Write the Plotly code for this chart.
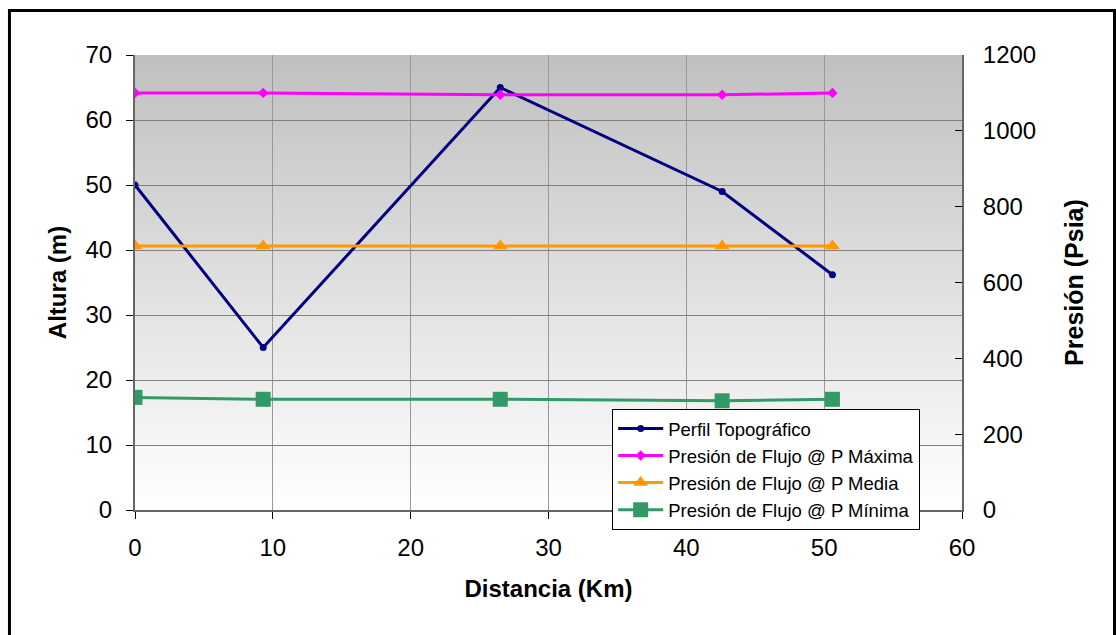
import base64
import plotly.graph_objects as go

# ---- data ----
distancia_km = [0, 9.3, 26.5, 42.6, 50.6]
perfil_topografico = [50, 25, 65, 49, 36.2]
presion_p_maxima = [1100, 1100, 1095, 1095, 1100]
presion_p_media = [696, 696, 696, 696, 696]
presion_p_minima = [297, 292, 292, 288, 292]

serie_nombres = [
    "Perfil Topográfico",
    "Presión de Flujo @ P Máxima",
    "Presión de Flujo @ P Media",
    "Presión de Flujo @ P Mínima",
]

FONT = "Liberation Sans, Arial, sans-serif"

fig = go.Figure()

fig.add_trace(go.Scatter(
    x=distancia_km, y=perfil_topografico, name=serie_nombres[0],
    mode="lines+markers",
    line=dict(color="#000080", width=3),
    marker=dict(symbol="circle", size=7, color="#000080"),
))
fig.add_trace(go.Scatter(
    x=distancia_km, y=presion_p_maxima, name=serie_nombres[1], yaxis="y2",
    mode="lines+markers",
    line=dict(color="#FF00FF", width=3),
    marker=dict(symbol="diamond", size=8, color="#FF00FF"),
))
fig.add_trace(go.Scatter(
    x=distancia_km, y=presion_p_media, name=serie_nombres[2], yaxis="y2",
    mode="lines+markers",
    line=dict(color="#FF9900", width=3),
    marker=dict(symbol="triangle-up", size=13, color="#FF9900"),
))
fig.add_trace(go.Scatter(
    x=distancia_km, y=presion_p_minima, name=serie_nombres[3], yaxis="y2",
    mode="lines+markers",
    line=dict(color="#339966", width=3),
    marker=dict(symbol="square", size=15, color="#339966"),
))

# vertical gradient background (grey top -> white bottom)
svg = (
    '<svg xmlns="http://www.w3.org/2000/svg" width="100" height="100" preserveAspectRatio="none">'
    '<defs><linearGradient id="g" x1="0" y1="0" x2="0" y2="1">'
    '<stop offset="0" stop-color="#C0C0C0"/><stop offset="1" stop-color="#FFFFFF"/>'
    '</linearGradient></defs><rect width="100" height="100" fill="url(#g)"/></svg>'
)
src = "data:image/svg+xml;base64," + base64.b64encode(svg.encode()).decode()

fig.update_layout(
    width=1116, height=635,
    margin=dict(l=135, r=154, t=55, b=125),
    paper_bgcolor="white",
    plot_bgcolor="white",
    font=dict(family=FONT, color="black", size=24),
    showlegend=True,
    images=[dict(source=src, xref="paper", yref="paper", x=0, y=1,
                 sizex=1, sizey=1, sizing="stretch", layer="below",
                 xanchor="left", yanchor="top")],
    xaxis=dict(
        range=[0, 60], dtick=10, tick0=0,
        showgrid=True, gridcolor="#999999", gridwidth=1,
        showline=True, linecolor="#666666", linewidth=2,
        ticks="outside", ticklen=7, tickcolor="black",
        tickfont=dict(size=24), ticklabelstandoff=8,
        zeroline=False,
        title=dict(text="<b>Distancia (Km)</b>", font=dict(size=24), standoff=20),
    ),
    yaxis=dict(
        range=[0, 70], dtick=10, tick0=0,
        showgrid=True, gridcolor="#808080", gridwidth=1,
        showline=True, linecolor="#666666", linewidth=2,
        ticks="outside", ticklen=7, tickcolor="black",
        tickfont=dict(size=24), ticklabelstandoff=9,
        zeroline=False,
        title=dict(text="<b>Altura (m)</b>", font=dict(size=24), standoff=12),
    ),
    yaxis2=dict(
        range=[0, 1200], dtick=200, tick0=0,
        overlaying="y", side="right",
        showgrid=False,
        showline=True, linecolor="#666666", linewidth=2,
        ticks="inside", ticklen=7, tickcolor="black",
        tickfont=dict(size=24), ticklabelstandoff=14,
        zeroline=False,
        title=dict(text="<b>Presión (Psia)</b>", font=dict(size=25), standoff=30),
    ),
    legend=dict(
        x=0.577, y=0.222, xanchor="left", yanchor="top",
        bgcolor="white", bordercolor="black", borderwidth=1,
        font=dict(size=18.5, family=FONT),
        itemwidth=45,
        entrywidth=280,
        tracegroupgap=0,
    ),
    shapes=[
        dict(type="rect", xref="paper", yref="paper",
             x0=-0.1518, x1=1.1844, y0=-0.3, y1=1.0978,
             line=dict(color="black", width=3), fillcolor="rgba(0,0,0,0)",
             layer="above"),
    ],
)

fig.write_html("out.html")
